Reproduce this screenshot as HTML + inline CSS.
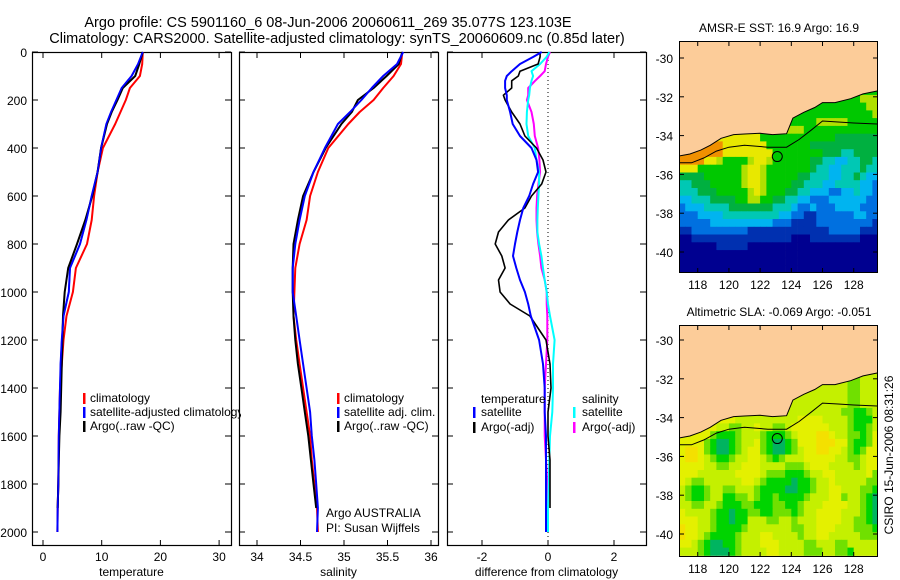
<!DOCTYPE html>
<html><head><meta charset="utf-8"><style>
html,body{margin:0;padding:0;background:#fff;}
svg{display:block;font-family:"Liberation Sans",sans-serif;}
</style></head><body>
<svg id="fig" width="900" height="580" viewBox="0 0 900 580" xmlns="http://www.w3.org/2000/svg">
<defs>
<clipPath id="clip1"><rect x="0" y="0" width="241" height="580"/></clipPath>
<clipPath id="clipMap1"><rect x="679" y="41" width="199" height="232"/></clipPath>
<clipPath id="clipMap2"><rect x="679" y="325" width="199" height="232"/></clipPath>
</defs>
<text x="328" y="27" font-size="14.5" text-anchor="middle">Argo profile: CS 5901160_6 08-Jun-2006 20060611_269 35.077S 123.103E</text>
<text x="337" y="43" font-size="14.5" text-anchor="middle">Climatology: CARS2000. Satellite-adjusted climatology: synTS_20060609.nc (0.85d later)</text>
</svg>
<script>
// ---------- data ----------
const profDepth = [0,50,100,150,200,250,300,400,500,600,700,800,900,1000,1100,1200,1300,1400,1500,1600,1700,1800,1900,2000];
const tempClim  = [17.0,16.9,16.5,14.8,14.1,13.2,12.3,10.2,9.3,8.7,8.3,7.5,5.6,5.1,4.0,3.5,3.2,2.9,2.8,2.7,2.65,2.6,2.5,2.45];
const tempSat   = [17.0,16.2,15.1,13.4,12.5,11.6,10.8,9.9,9.3,8.3,7.4,6.3,4.6,4.4,3.5,3.2,3.0,2.9,2.8,2.7,2.65,2.6,2.5,2.45];
const tempArgo  = [17.0,16.4,15.7,13.6,12.7,11.7,10.9,9.9,9.3,8.4,7.2,5.8,4.3,3.7,3.4,3.3,3.2,3.1,3.0,2.8,2.7,2.6,2.5,null];
const salClim   = [35.67,35.655,35.57,35.45,35.34,35.18,35.05,34.82,34.70,34.61,34.57,34.49,34.44,34.43,34.42,34.45,34.49,34.53,34.57,34.61,34.63,34.66,34.69,34.70];
const salSat    = [35.68,35.61,35.45,35.32,35.20,35.07,34.93,34.78,34.65,34.55,34.49,34.44,34.41,34.41,34.45,34.49,34.53,34.57,34.61,34.63,34.66,34.68,34.70,34.69];
const salArgo   = [35.67,35.63,35.49,35.34,35.16,35.09,34.97,34.79,34.65,34.53,34.47,34.42,34.41,34.41,34.42,34.44,34.47,34.51,34.55,34.59,34.62,34.65,34.68,null];
const diffDepth = [0,20,50,80,100,120,150,180,200,250,300,350,400,450,500,550,600,650,700,750,800,850,900,950,1000,1050,1100,1200,1300,1400,1500,1600,1700,1800,1900,2000];
const diffTSat  = [-0.19,-0.44,-0.85,-1.1,-1.25,-1.3,-1.3,-1.25,-1.25,-1.15,-1.07,-0.85,-0.5,-0.35,-0.3,-0.45,-0.57,-0.75,-0.85,-0.93,-1.0,-1.06,-0.96,-0.85,-0.7,-0.6,-0.52,-0.27,-0.15,-0.1,-0.1,-0.06,-0.06,-0.06,-0.06,-0.06];
const diffTArgo = [-0.24,-0.24,-0.3,-0.85,-0.9,-1.1,-1.1,-1.35,-1.3,-1.1,-0.85,-0.7,-0.35,-0.15,-0.06,-0.19,-0.5,-0.7,-1.2,-1.5,-1.6,-1.4,-1.3,-1.5,-1.45,-1.15,-0.55,-0.06,0.06,0.09,0.0,0.0,0.06,0.06,0.06,null];
const diffSSat  = [0.04,-0.04,-0.24,-0.5,-0.45,-0.5,-0.55,-0.57,-0.6,-0.64,-0.65,-0.6,-0.4,-0.35,-0.27,-0.27,-0.29,-0.31,-0.32,-0.32,-0.27,-0.2,-0.15,-0.1,-0.04,0.0,0.06,0.2,0.15,0.15,0.13,0.06,0.04,0.02,0.0,0.0];
const diffSArgo = [0.06,0.0,-0.06,-0.1,-0.24,-0.39,-0.6,-0.6,-0.64,-0.5,-0.43,-0.4,-0.3,-0.26,-0.24,-0.29,-0.33,-0.35,-0.35,-0.33,-0.29,-0.24,-0.2,-0.1,-0.04,-0.04,-0.02,-0.02,-0.06,-0.1,-0.1,-0.1,-0.06,-0.02,0.0,null];
const depthTicks = [0,200,400,600,800,1000,1200,1400,1600,1800,2000];
const tempTicks = [0,10,20,30];
const salTicks = [34,34.5,35,35.5,36];
const diffTicks = [-2,0,2];
const latTicks = [-30,-32,-34,-36,-38,-40];
const lonTicks = [118,120,122,124,126,128];
const sstRows = [
"GGGGGGGGGGGGGGGGGGGGGGGGGGGGGGGG",
"GGGGGGGGGGGGGGGGGGGGGGGGGGGGGLLL",
"GGGGGGGGGGGGGGGGGGGGGGGGGGGGGGLL",
"GGGGGGGGGGGGGGGGGGGGGGGGGGGGGGGL",
"GGGGGGGGGGGGGGGGGGGGGGLLLLLGGGGG",
"YYYYYYYYYYYYYGGGGLLLGGGGGGGGGGGG",
"YYYYYYYYYYYYYGGGGGGGGGGGGDDDDDDD",
"OOOOOOOYYYYYYYGGGGGGGDDDDDDDDDDD",
"OOOOOOOYYYYYYYYGGGGGGGGDDDTTDDDD",
"OOOOYYLGGGGLYYLGGGGGGDDTTCCTTDDT",
"YYYGGGGGGGLYYLGGGGGGGDTTCCTTTDTT",
"DDDDGGGGGGLYYLGGGGGDDTTTCCTTDTCC",
"TTDDDGGGGGLYYLGGGGDDTTTCCTTTTCCB",
"TTTDDDGGGGGLYLGGGDDTTCCCBBCCTCCB",
"CCTTTDDDDGGLLGGDDTTCCBBBCCCCCCBB",
"BCCCTTTTDDDDDDDTTTCBBCBBBCCCCBBB",
"BBBCCCCTTTTTTTTTCCBBMMBBBBBBCCBB",
"BBBBBCCCCCCCCCCBBBMMMMBBBBBBBBBM",
"MMBBBBBBBBBMMMMMMMMMMMMMBBBBBMMM",
"NNMMMMMMMMMMMMMMMMNNNMMMMMMMMNNN",
"NNNNNNMMMMMNNNNNNNNNNNNNNNNNNNNN",
"NNNNNNNNNNNNNNNNNNNNNNNNNNNNNNNN",
"NNNNNNNNNNNNNNNNNNNNNNNNNNNNNNNN",
"NNNNNNNNNNNNNNNNNNNNNNNNNNNNNNNN"];
const slaRows = [
"LLLLLLLLLLLLLLLLLLLLLLLLLLLKKLLL",
"LLLLLLLLLLLLLLLLLLLLLLLLLLLKKLLL",
"LLLLLLLLLLLLLLLLLLLLLLLLLLLKKLLL",
"LLLLLLLLLLLLLLLLLLLLLLLLLLLKKLLL",
"LLLLLLLLLLLLLLLLLLLLLLLLLLLKKLLL",
"LLLLLLLLLLLLLLLLLLLLLLLLLLKKGGKL",
"YYYYYYYYYLLLLLLLLLLYYYYLLLLKGGGL",
"YYYYYYLLKKLLYLLKKLYYYYYYLLLKGGKL",
"YYYYYKGGGKLLLKGGGKLYYYOOYLLKKGKY",
"YYYYKGDDGKLLYKGDDGKYYYOOOYYKGGKY",
"YOOYKGDDGKLYYKGDDGKLYYOOYYLKGKYY",
"YOOYLKGGKLLYYLKGKLLLYYYYYLLKKLYY",
"YYYYLLKKLLYYYLLLLKKKLYYYLLLLKLYY",
"YYYLLLLLLYYYYLKKKGGGKLLYYLLLLLYK",
"YLKKLLLLLLYYLKGGGGDGGKLLYLLLLLKK",
"LKGGKLLKKLLLKGGGGDDGGKLLYYLLLKKG",
"LKGGKLLGGKKLKGGKGGGGKLLLYYKLLKGD",
"LLKKLLKGGGKKGGGKKGGKLLLYYYYLLKGD",
"YLLLLKGGDGGKKGGKKKGKLLYYYYLLLKGD",
"YYYLLKGGDGGLLLKKLLKLLLYYYYLLKKGD",
"OYYLLKGGGGKLLLLLLLKKLLYYYLLLKKKG",
"OYYLKGGGGKLLLYYLLLLKLLYYLLLLLKKK",
"YYLKGDDGGKLLLYYYLLLLKKLLLKKLLLLL",
"LLLKGDDDGKLLLLYYLLLLKKKLLKKGLLLL"];
const coastLon = [116.8,117.5,118.2,118.8,119.5,120.3,121.0,122.0,122.8,123.7,124.1,124.8,125.5,126.0,126.8,127.8,128.6,129.5];
const coastLat = [-35.05,-34.95,-34.75,-34.5,-34.14,-33.95,-33.92,-33.88,-33.95,-33.9,-33.1,-32.8,-32.55,-32.3,-32.3,-32.1,-31.85,-31.7];
const isoLon = [116.8,117.6,118.4,119.2,120.0,121.0,122.5,123.7,124.5,125.3,126.0,127.0,128.0,129.5];
const isoLat = [-35.4,-35.4,-35.15,-34.8,-34.6,-34.5,-34.6,-34.6,-34.2,-33.7,-33.25,-33.3,-33.35,-33.4];
const argoLon = [123.1];
const argoLat = [-35.08];
// ---------- helpers ----------
const NS='http://www.w3.org/2000/svg';
const svg=document.getElementById('fig');
function mk(tag,attrs,parent){const e=document.createElementNS(NS,tag);for(const k in attrs)e.setAttribute(k,attrs[k]);(parent||svg).appendChild(e);return e;}
const yD = d => 52 + d*0.24;
const xT = t => 43 + 5.87*t;
const xS = s => 257 + 87*(s-34);
const xDf = v => 548 + 33*v;
const mapX = lon => 679 + (lon-116.8)*15.6;
const mapY1 = lat => 58 + (-30-lat)*19.4;
const mapY2 = lat => 340 + (-30-lat)*19.4;

function panel(x0,x1,name,xTicks,xf,xlabel,xlabName){
  const g=mk('g',{});
  
  
  mk('rect',{x:x0+0.5,y:52.5,width:x1-x0,height:493,fill:'none',stroke:'#000','stroke-width':1.2},g);
  depthTicks.forEach(d=>{const y=yD(d);
    mk('line',{x1:x0,x2:x0+6,y1:y,y2:y,stroke:'#000'},g);
    mk('line',{x1:x1-6,x2:x1,y1:y,y2:y,stroke:'#000'},g);});
  xTicks.forEach(v=>{const x=xf(v);
    mk('line',{x1:x,x2:x,y1:52,y2:58,stroke:'#000'},g);
    mk('line',{x1:x,x2:x,y1:540,y2:546,stroke:'#000'},g);
    const t=mk('text',{x:x,y:561,'font-size':12,'text-anchor':'middle'},g);t.textContent=String(v);
    
    });
  const l=mk('text',{x:(x0+x1)/2,y:576,'font-size':12,'text-anchor':'middle'},g);l.textContent=xlabel;
  
  
  return g;
}
function series(xs,ds,xf,color,name,parent,w){
  let pts=[];
  for(let i=0;i<xs.length;i++){ if(xs[i]===null) continue; pts.push(xf(xs[i]).toFixed(1)+','+yD(ds[i]).toFixed(1)); }
  const p=mk('polyline',{points:pts.join(' '),fill:'none',stroke:color,'stroke-width':w||2,'stroke-linejoin':'round'},parent);
  
  
}
function txt(x,y,s,name,size,parent,anchor){const t=mk('text',{x:x,y:y,'font-size':size||12,'text-anchor':anchor||'start'},parent);t.textContent=s;
  
  return t;}
function marker(x,y,color,parent){const r=mk('rect',{x:x,y:y-10,width:2.5,height:11,fill:color},parent);
  
  }

depthTicks.forEach(d=>{txt(27,yD(d)+5,String(d),'y-tick-label',12,svg,'end');});

const p1=panel(32,231,'temperature-panel',tempTicks,xT,'temperature','x-axis-title-temperature');
series(tempClim,profDepth,xT,'#ff0000','temp-climatology-line',p1);
series(tempSat,profDepth,xT,'#0000ff','temp-satellite-line',p1);
series(tempArgo,profDepth,xT,'#000000','temp-argo-line',p1);
series(tempSat,profDepth,xT,'#0000ff','temp-satellite-line-top',p1,1.6);
const lg1=mk('g',{'clip-path':'url(#clip1)'});


marker(83,403,'#ff0000',lg1);txt(90,402,'climatology','legend-entry',12,lg1);
marker(83,417,'#0000ff',lg1);txt(90,416,'satellite-adjusted climatology','legend-entry',12,lg1);
marker(83,431,'#000000',lg1);txt(90,430,'Argo(..raw -QC)','legend-entry',12,lg1);

const p2=panel(239,438,'salinity-panel',salTicks,xS,'salinity','x-axis-title-salinity');
series(salClim,profDepth,xS,'#ff0000','sal-climatology-line',p2);
series(salArgo,profDepth,xS,'#000000','sal-argo-line',p2);
series(salSat,profDepth,xS,'#0000ff','sal-satellite-line',p2);
marker(337,403,'#ff0000',p2);txt(344,402,'climatology','legend-entry',12,p2);
marker(337,417,'#0000ff',p2);txt(344,416,'satellite adj. clim.','legend-entry',12,p2);
marker(337,431,'#000000',p2);txt(344,430,'Argo(..raw -QC)','legend-entry',12,p2);
txt(326,517,'Argo AUSTRALIA','argo-credit',12,p2);
txt(326,532,'PI: Susan Wijffels','pi-credit',12,p2);

const p3=panel(447,646,'difference-panel',diffTicks,xDf,'difference from climatology','x-axis-title-difference');
const zl=mk('line',{x1:xDf(0),x2:xDf(0),y1:52,y2:545,stroke:'#000','stroke-dasharray':'1,3'},p3);


series(diffSArgo,diffDepth,xDf,'#ff00ff','diff-sal-argo-line',p3);
series(diffSSat,diffDepth,xDf,'#00ffff','diff-sal-satellite-line',p3);
series(diffTArgo,diffDepth,xDf,'#000000','diff-temp-argo-line',p3,1.6);
series(diffTSat,diffDepth,xDf,'#0000ff','diff-temp-satellite-line',p3);
txt(481,403,'temperature','legend-header',12,p3);
marker(473,417,'#0000ff',p3);txt(481,416,'satellite','legend-entry',12,p3);
marker(473,432,'#000000',p3);txt(481,431,'Argo(-adj)','legend-entry',12,p3);
txt(582,403,'salinity','legend-header',12,p3);
marker(573,417,'#00ffff',p3);txt(582,416,'satellite','legend-entry',12,p3);
marker(573,432,'#ff00ff',p3);txt(582,431,'Argo(-adj)','legend-entry',12,p3);

const sstCol={O:'#f09000',Y:'#e8e800',L:'#b0e000',G:'#00c800',D:'#00b040',T:'#00c8b4',C:'#00b4f0',B:'#0070e0',M:'#0030b0',N:'#000090'};
const slaCol={O:'#f4e000',Y:'#e4f000',L:'#c4f000',K:'#70e000',G:'#00d400',D:'#00b460'};
function drawMap(rows,cols,yf,clip,name,title,ty){
  const g=mk('g',{});
  
  
  const c=mk('g',{'clip-path':'url(#'+clip+')'},g);
  mk('rect',{x:679,y:yf(-29),width:200,height:240,fill:'#fccc99'},c);
  rows.forEach((row,r)=>{const lat=-31.5-0.4*r;
    for(let i=0;i<row.length;i++){const lon=116.8+0.4*i;
      const x=mapX(lon),y=yf(lat);
      const cell=mk('rect',{x:x.toFixed(1),y:y.toFixed(1),width:6.6,height:8.2,fill:cols[row[i]]},c);
      
      
    }});
  let pts=[mapX(116.8)+','+yf(-28)];
  for(let i=0;i<coastLon.length;i++)pts.push(mapX(coastLon[i]).toFixed(1)+','+yf(coastLat[i]).toFixed(1));
  pts.push(mapX(130)+','+yf(coastLat[coastLat.length-1]));pts.push(mapX(130)+','+yf(-28));
  const land=mk('polygon',{points:pts.join(' '),fill:'#fccc99',stroke:'#000','stroke-width':1},c);
  
  
  let ip=[];for(let i=0;i<isoLon.length;i++)ip.push(mapX(isoLon[i]).toFixed(1)+','+yf(isoLat[i]).toFixed(1));
  const iso=mk('polyline',{points:ip.join(' '),fill:'none',stroke:'#000','stroke-width':1},c);
  
  
  const ci=mk('circle',{cx:mapX(argoLon[0]),cy:yf(argoLat[0]),r:5,fill:'none',stroke:'#000','stroke-width':1},c);
  
  
  const y0=clip==='clipMap1'?41:325, y1=y0+232;
  mk('rect',{x:679.5,y:y0+0.5,width:198,height:231,fill:'none',stroke:'#000'},g);
  latTicks.forEach(l=>{const y=yf(l);
    mk('line',{x1:679,x2:684,y1:y,y2:y,stroke:'#000'},g);mk('line',{x1:873,x2:878,y1:y,y2:y,stroke:'#000'},g);
    txt(673,y+5,String(l),'map-lat-tick-label',12,g,'end');});
  lonTicks.forEach(l=>{const x=mapX(l);
    mk('line',{x1:x,x2:x,y1:y0,y2:y0+5,stroke:'#000'},g);mk('line',{x1:x,x2:x,y1:y1-5,y2:y1,stroke:'#000'},g);
    txt(x,y1+16,String(l),'map-lon-tick-label',12,g,'middle');});
  txt(779,ty,title,'map-title',12,g,'middle');
}
drawMap(sstRows,sstCol,mapY1,'clipMap1','sst-map','AMSR-E SST: 16.9 Argo: 16.9',32);
drawMap(slaRows,slaCol,mapY2,'clipMap2','sla-map','Altimetric SLA: -0.069 Argo: -0.051',316);
const st=txt(0,0,'CSIRO 15-Jun-2006 08:31:26','timestamp',12,svg,'middle');
st.setAttribute('transform','translate(893,455) rotate(-90)');
</script>
</body></html>
